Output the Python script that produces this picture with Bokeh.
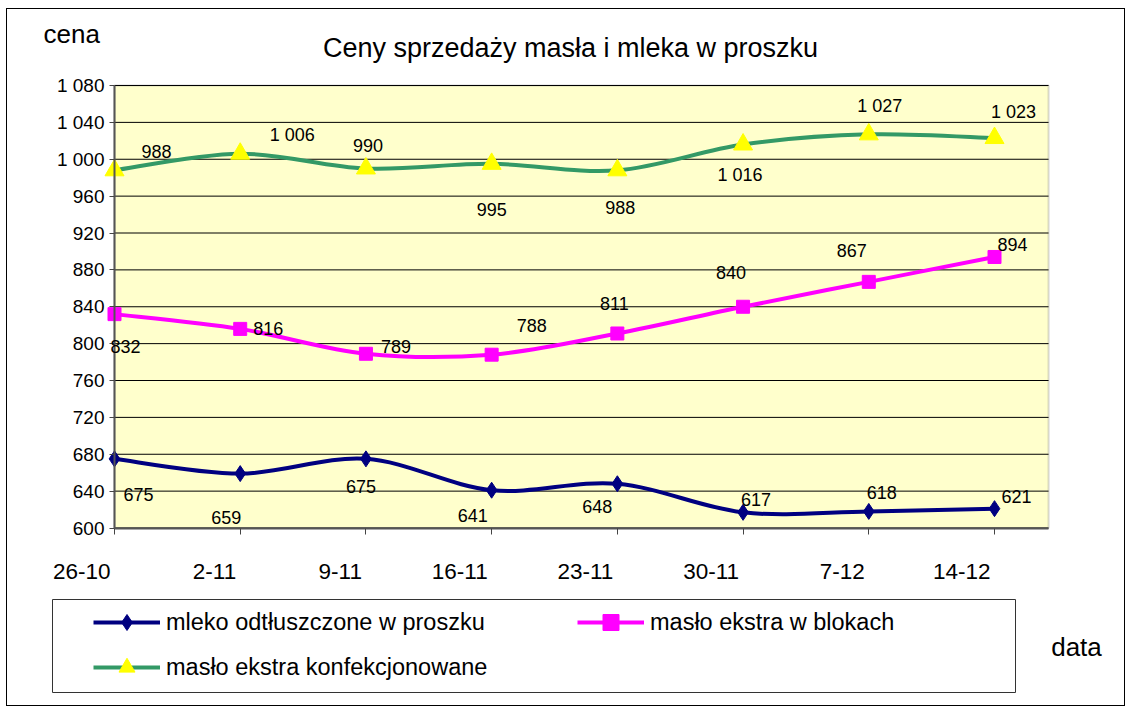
import numpy as np
from bokeh.plotting import figure
from bokeh.models import (ColumnDataSource, Range1d, FixedTicker, Legend, LegendItem,
                          LabelSet, Label, BoxAnnotation)
from bokeh.core.properties import value
from bokeh.embed import file_html
from bokeh.resources import INLINE

# ---------------- data ----------------
categories = ["26-10", "2-11", "9-11", "16-11", "23-11", "30-11", "7-12", "14-12"]
mleko = [675, 659, 675, 641, 648, 617, 618, 621]
maslo_bloki = [832, 816, 789, 788, 811, 840, 867, 894]
maslo_konf = [988, 1006, 990, 995, 988, 1016, 1027, 1023]
series_names = ["mleko odtłuszczone w proszku", "masło ekstra w blokach",
                "masło ekstra konfekcjonowane"]
y_ticks = [600, 640, 680, 720, 760, 800, 840, 880, 920, 960, 1000, 1040, 1080]
y_tick_labels = ["600", "640", "680", "720", "760", "800", "840", "880", "920",
                 "960", "1 000", "1 040", "1 080"]
title_text = "Ceny sprzedaży masła i mleka w proszku"
y_title = "cena"
x_title = "data"

# data-label offsets in pixels (right, down) - style only
mleko_dx = [24, -14, -5, -19, -20, 13, 13, 22]
mleko_dy = [36, 44, 28, 25, 23, -13, -19, -12]
bloki_dx = [11, 28, 30, 40, -3, -12, -17, 18]
bloki_dy = [32, 0, -7, -29, -30, -34, -31, -12]
konf_dx = [42, 52, 2, 0, 3, -3, 11, 19]
konf_dy = [-19, -19, -23, 46, 37, 30, -28, -26]

FONT = "Liberation Sans"

# ---------------- layout (pixels) ----------------
W, H = 1119, 698          # canvas size
PX0 = 107.0               # canvas x of first category
PXU = 880.0 / 7           # px per category step
PY600 = 518.5             # canvas y (from top) of value 600
PYU = 442.5 / 480         # px per price unit
Y_MIN, Y_MAX = 600, 1080  # plot-area value range
X_AREA_END = 7.43         # right edge of plot area in category units


def sy(img_y):
    """image y (from top) -> screen units measured up from canvas bottom"""
    return H - (img_y - 9)


def sx(img_x):
    return img_x - 7


def fmt(v):
    return f"{v:,}".replace(",", " ")


def bezier_source(ys):
    n = len(ys)
    P = np.column_stack([np.arange(n, dtype=float), np.asarray(ys, dtype=float)])
    prev = np.vstack([P[0], P[:-1]])
    nxt = np.vstack([P[1:], P[-1]])
    tan = (nxt - prev) / 6.0
    return ColumnDataSource(dict(
        x0=P[:-1, 0], y0=P[:-1, 1], x1=P[1:, 0], y1=P[1:, 1],
        cx0=P[:-1, 0] + tan[:-1, 0], cy0=P[:-1, 1] + tan[:-1, 1],
        cx1=P[1:, 0] - tan[1:, 0], cy1=P[1:, 1] - tan[1:, 1]))


x_range = Range1d(-PX0 / PXU, (W - PX0) / PXU)
y_range = Range1d(600 - (H - PY600) / PYU, 600 + PY600 / PYU)

p = figure(width=W, height=H, title=None, x_range=x_range, y_range=y_range,
           output_backend="svg", toolbar_location=None,
           min_border_left=0, min_border_right=0, min_border_top=0,
           min_border_bottom=0)
p.styles = {"border": "1px solid black", "margin-left": "6px", "margin-top": "8px"}
p.background_fill_color = "white"
p.border_fill_color = "white"
p.outline_line_color = None
p.xgrid.visible = False
p.ygrid.visible = False

# plot area
p.add_layout(BoxAnnotation(left=0, right=X_AREA_END, bottom=Y_MIN, top=Y_MAX,
                           fill_color="#FFFFCC", fill_alpha=1,
                           line_color="#808080", line_width=2, level="underlay"))
# horizontal grid lines at the y ticks
p.segment(x0=0, x1=X_AREA_END, y0=y_ticks, y1=y_ticks, line_color="black",
          line_width=1)

# axes
p.yaxis.fixed_location = 0
p.yaxis.bounds = (Y_MIN, Y_MAX)
p.yaxis.ticker = FixedTicker(ticks=y_ticks)
p.yaxis.major_label_overrides = dict(zip(y_ticks, y_tick_labels))
p.yaxis.major_label_text_font = FONT
p.yaxis.major_label_text_font_size = "19px"
p.yaxis.major_label_text_color = "black"
p.yaxis.major_tick_out = 5
p.yaxis.major_tick_in = 0
p.yaxis.minor_tick_line_color = None
p.yaxis.major_label_standoff = 5
p.yaxis.axis_line_color = "#555555"
p.yaxis.axis_line_width = 2
p.yaxis.major_tick_line_color = "#444444"

p.xaxis.fixed_location = Y_MIN
p.xaxis.bounds = (0, X_AREA_END)
p.xaxis.ticker = FixedTicker(ticks=list(range(len(categories))))
p.xaxis.major_label_text_color = None
p.xaxis.major_tick_out = 6
p.xaxis.major_tick_in = 0
p.xaxis.minor_tick_line_color = None
p.xaxis.axis_line_color = "#555555"
p.xaxis.axis_line_width = 2
p.xaxis.major_tick_line_color = "#444444"

xs = list(range(len(categories)))
specs = [
    (mleko, "#000080", "diamond", 16, "#000080", mleko_dx, mleko_dy),
    (maslo_bloki, "#FF00FF", "square", 13, "#FF00FF", bloki_dx, bloki_dy),
    (maslo_konf, "#339966", "triangle", 19, "#FFFF00", konf_dx, konf_dy),
]
items = []
for (ys, col, marker, msize, mcol, dx, dy), name in zip(specs, series_names):
    bsrc = bezier_source(ys)
    br = p.bezier(x0="x0", y0="y0", x1="x1", y1="y1", cx0="cx0", cy0="cy0",
                  cx1="cx1", cy1="cy1", source=bsrc, line_color=col, line_width=4)
    src = ColumnDataSource(dict(x=xs, y=ys, label=[fmt(v) for v in ys],
                                dx=dx, ndy=[-d for d in dy]))
    sr = p.scatter(x="x", y="y", marker=marker, size=msize, fill_color=mcol,
                   line_color=mcol, source=src)
    ls = LabelSet(x="x", y="y", text="label", x_offset="dx", y_offset="ndy",
                  source=src, text_align="center", text_baseline="middle",
                  text_font=value(FONT), text_font_size=value("18px"),
                  text_color="black")
    p.add_layout(ls)
    items.append(LegendItem(label=name, renderers=[br, sr]))

# category labels below the axis
cat_src = ColumnDataSource(dict(x=xs, text=categories))
p.add_layout(LabelSet(x="x", y=sy(570.5), y_units="screen", text="text",
                      source=cat_src, x_offset=-4, text_align="right",
                      text_baseline="middle", text_font=value(FONT),
                      text_font_size=value("22.5px"), text_color="black"))

# legend box
p.add_layout(BoxAnnotation(left=sx(52), right=sx(1015), top=sy(599), bottom=sy(692),
                           left_units="screen", right_units="screen",
                           top_units="screen", bottom_units="screen",
                           fill_color=None, fill_alpha=0,
                           line_color="#333333", line_width=1, line_alpha=1))

legend = Legend(items=items, orientation="horizontal", ncols=2,
                location=(sx(93), sy(687)), padding=0, margin=0, spacing=5,
                glyph_width=67, glyph_height=40, label_height=40,
                label_width=406, label_standoff=6,
                border_line_color=None, background_fill_alpha=0,
                label_text_font=FONT, label_text_font_size="23.5px",
                label_text_color="black")
p.add_layout(legend, "center")

# titles
p.add_layout(Label(x=sx(570), y=sy(47), x_units="screen", y_units="screen",
                   text=title_text, text_align="center", text_baseline="alphabetic",
                   text_font=FONT, text_font_size="27px", text_color="black"))
p.add_layout(Label(x=sx(43), y=sy(33), x_units="screen", y_units="screen",
                   text=y_title, text_align="left", text_baseline="alphabetic",
                   text_font=FONT, text_font_size="26px", text_color="black"))
p.add_layout(Label(x=sx(1076), y=sy(646), x_units="screen", y_units="screen",
                   text=x_title, text_align="center", text_baseline="alphabetic",
                   text_font=FONT, text_font_size="26px", text_color="black"))

open("out.html", "w").write(file_html(p, INLINE))
